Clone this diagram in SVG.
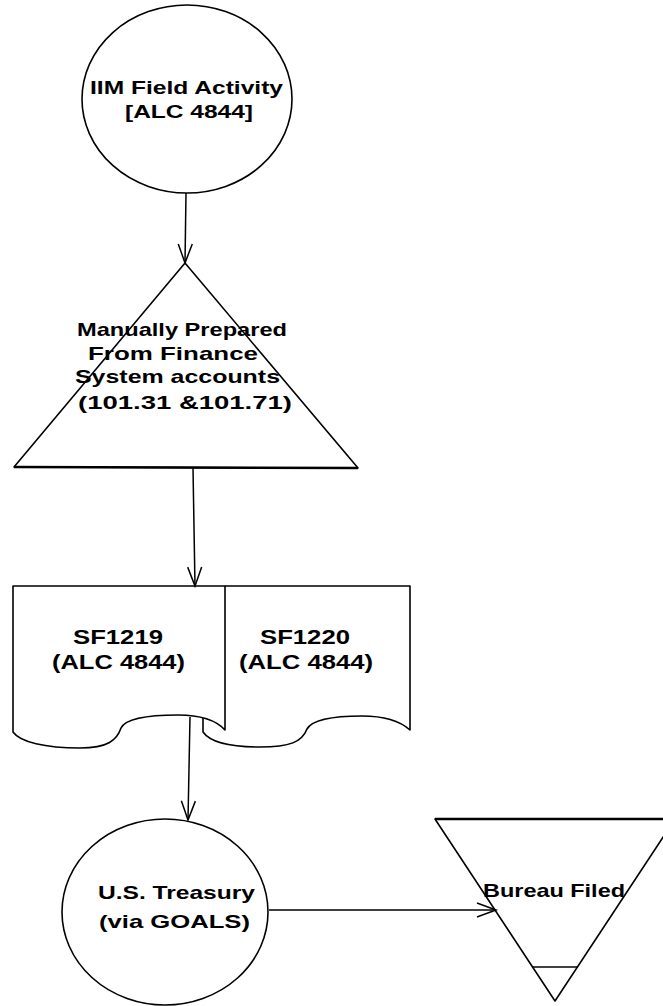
<svg xmlns="http://www.w3.org/2000/svg" width="663" height="1006" viewBox="0 0 663 1006">
<style>
.shape{fill:none;stroke:#000;stroke-width:1.6;stroke-linejoin:round}
.conn{fill:none;stroke:#000;stroke-width:1.5}
.lbl{font-family:"Liberation Sans",Arial,Helvetica,sans-serif;font-weight:bold;font-size:19px;fill:#000}
.big{font-size:21px}
</style>
<defs>
<marker id="arr" markerUnits="userSpaceOnUse" markerWidth="24" markerHeight="18" refX="20" refY="8" orient="auto" overflow="visible">
<path d="M1,1 L20,8 L1,15" fill="none" stroke="#000" stroke-width="1.5"/>
</marker>
</defs>
<rect width="663" height="1006" fill="#fff"/>

<g id="node-iim">
<ellipse class="shape" cx="187" cy="99" rx="105" ry="94"/>
<text class="lbl" x="90" y="94" textLength="193" lengthAdjust="spacingAndGlyphs">IIM Field Activity</text>
<text class="lbl" x="125" y="118" textLength="128" lengthAdjust="spacingAndGlyphs">[ALC 4844]</text>
</g>

<g id="node-manual">
<path class="shape" d="M185,263 L358,468 L14,467 Z"/>
<path d="M14,467 L358,468" stroke="#000" stroke-width="2.6" fill="none"/>
<text class="lbl" x="77" y="336" textLength="210" lengthAdjust="spacingAndGlyphs">Manually Prepared</text>
<text class="lbl" x="88" y="360" textLength="170" lengthAdjust="spacingAndGlyphs">From Finance</text>
<text class="lbl" x="75" y="383" textLength="205" lengthAdjust="spacingAndGlyphs">System accounts</text>
<text class="lbl" x="78" y="409" textLength="214" lengthAdjust="spacingAndGlyphs">(101.31 &amp;101.71)</text>
</g>

<g id="node-sf1219">
<path class="shape" d="M13,732 V586 H225 V730 C215,719 200,715 178,715 C148,715 126,718 121,728 C117,740 108,748 80,748 C45,748 20,742 13,732 Z"/>
<text class="lbl big" x="73" y="644" textLength="90" lengthAdjust="spacingAndGlyphs">SF1219</text>
<text class="lbl big" x="52" y="669" textLength="133" lengthAdjust="spacingAndGlyphs">(ALC 4844)</text>
</g>

<g id="node-sf1220">
<path class="shape" d="M225,586 H410 V730 C400,721 385,716 362,716 C333,716 312,720 307,729 C302,742 290,747 260,747 C230,747 210,742 203,732 V718"/>
<text class="lbl big" x="260" y="644" textLength="90" lengthAdjust="spacingAndGlyphs">SF1220</text>
<text class="lbl big" x="239" y="669" textLength="134" lengthAdjust="spacingAndGlyphs">(ALC 4844)</text>
</g>

<g id="node-treasury">
<ellipse class="shape" cx="165" cy="912" rx="103" ry="93"/>
<text class="lbl" x="98" y="899" textLength="157" lengthAdjust="spacingAndGlyphs">U.S. Treasury</text>
<text class="lbl" x="99" y="928" textLength="151" lengthAdjust="spacingAndGlyphs">(via GOALS)</text>
</g>

<g id="node-bureau">
<path class="shape" d="M435,819 L675,819 L555,1001 Z"/>
<path d="M435,819 L663,819" stroke="#000" stroke-width="2.4" fill="none"/>
<line class="shape" x1="532" y1="967" x2="578" y2="967"/>
<text class="lbl" x="483" y="897" textLength="142" lengthAdjust="spacingAndGlyphs">Bureau Filed</text>
</g>

<g id="connectors">
<path class="conn" d="M186,193 L185,263" marker-end="url(#arr)"/>
<path class="conn" d="M193,468 L195,586" marker-end="url(#arr)"/>
<path class="conn" d="M190,717 L188,820" marker-end="url(#arr)"/>
<path class="conn" d="M269,910 L496,910" marker-end="url(#arr)"/>
</g>
</svg>
